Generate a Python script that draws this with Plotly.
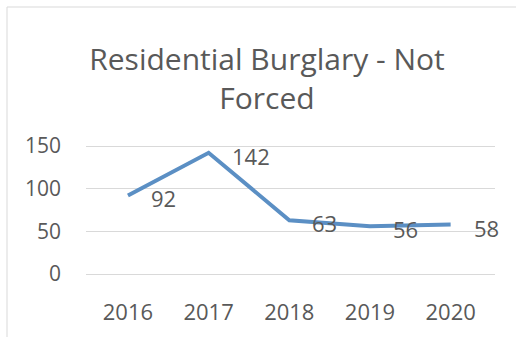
import plotly.graph_objects as go

# Yearly counts of non-forced residential burglaries
years = ["2016", "2017", "2018", "2019", "2020"]
counts = [92, 142, 63, 56, 58]
y_ticks = [0, 50, 100, 150]

TEXT = "#595959"
GRID = "#d9d9d9"
LINE = "#5b8fc4"
FONT = "Open Sans"

W, H = 516, 337
L, R, T, B = 86, 21, 144, 61
pw, ph = W - L - R, H - T - B


def px_x(x):
    return (x - L) / pw


def px_y(y):
    return (H - B - y) / ph


fig = go.Figure()
fig.add_trace(go.Scatter(
    x=years, y=counts, mode="lines",
    line=dict(color=LINE, width=4),
    hoverinfo="skip", showlegend=False,
))

# value labels to the right of each point (x given as category index)
for i, v in enumerate(counts):
    fig.add_annotation(
        x=i, y=v, xref="x", yref="y", text=str(v), showarrow=False,
        xanchor="left", yanchor="middle", xshift=21, yshift=-3,
        font=dict(family=FONT, size=22, color=TEXT),
    )

# chart frame
fig.add_shape(
    type="rect", xref="paper", yref="paper",
    x0=px_x(7), x1=px_x(W + 10), y0=px_y(H + 10), y1=px_y(7),
    line=dict(color=GRID, width=1), fillcolor="rgba(0,0,0,0)", layer="below",
)

fig.update_layout(
    width=W, height=H,
    margin=dict(l=L, r=R, t=T, b=B),
    paper_bgcolor="white", plot_bgcolor="white",
    title=dict(
        text="Residential Burglary - Not<br>Forced",
        font=dict(family=FONT, size=30, color=TEXT),
        x=267 / W, xanchor="center", xref="container",
        y=1 - 70 / H, yanchor="top", yref="container",
    ),
    xaxis=dict(
        type="category", range=[-0.52, 4.55],
        showgrid=False, zeroline=False, showline=False,
        tickfont=dict(family=FONT, size=22, color=TEXT),
        ticks="", ticklabelstandoff=21,
    ),
    yaxis=dict(
        # 2 px of headroom on each side keeps the 0 and 150 grid lines drawn
        range=[-2.34, 152.34], tickvals=y_ticks,
        showgrid=True, gridcolor=GRID, gridwidth=1,
        zeroline=False, showline=False,
        tickfont=dict(family=FONT, size=21, color=TEXT),
        ticks="", ticklabelstandoff=24,
    ),
)

fig.write_html("out.html")
